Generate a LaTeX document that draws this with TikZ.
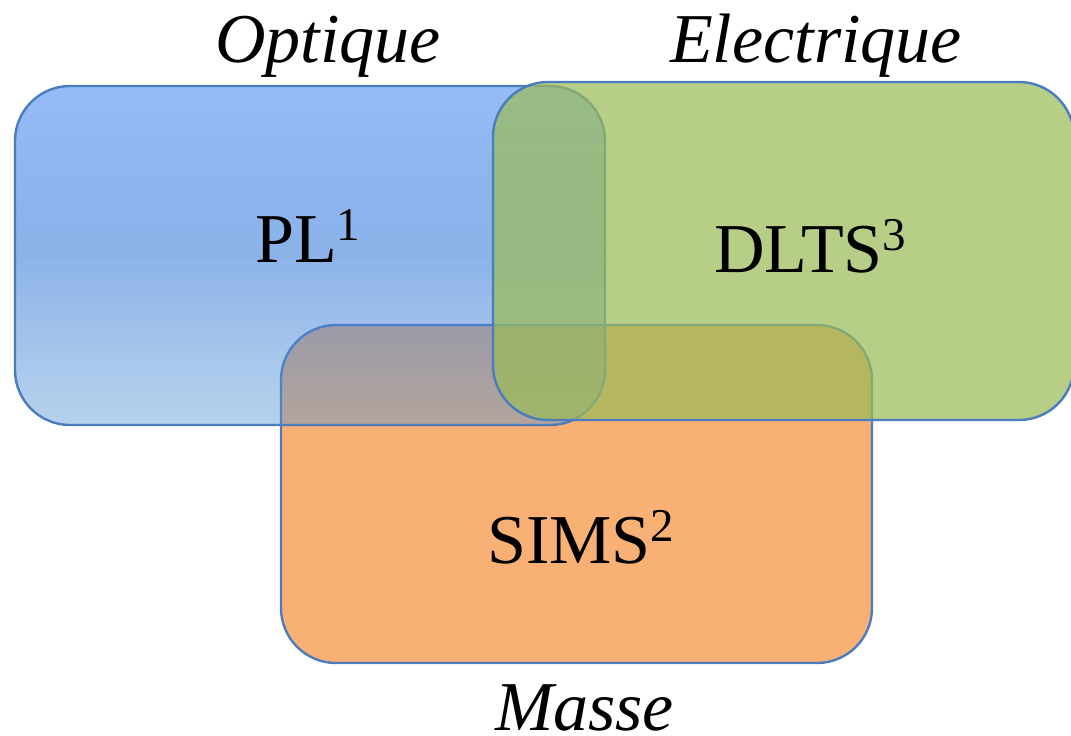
\documentclass[tikz,border=0pt]{standalone}
\usepackage{fontspec}
\setmainfont{Liberation Serif}
\usetikzlibrary{fadings}
\definecolor{edgeblue}{RGB}{74,124,190}
\definecolor{orangefill}{RGB}{247,150,70}
\definecolor{greenfill}{RGB}{155,187,89}
\definecolor{bluetop}{RGB}{116,165,244}
\definecolor{bluemid}{RGB}{60,125,218}
\definecolor{bluebot}{RGB}{87,149,211}
\tikzfading[name=bluefade, top color=transparent!25, bottom color=transparent!57]
\newcommand\supnum[1]{\raisebox{22pt}{\fontsize{47}{50}\selectfont #1}}
\begin{document}
\begin{tikzpicture}[x=1pt,y=-1pt,
  box/.style={draw=edgeblue, line width=2.4pt, rounded corners=55pt},
  lab/.style={font=\fontsize{70}{84}\selectfont, inner sep=0pt, anchor=base west},
  cat/.style={font=\fontsize{70}{84}\selectfont\itshape, inner sep=0pt, anchor=base west}]
\useasboundingbox (0,0) rectangle (1071,736);
\begin{scope}
\clip (0,0) rectangle (1071,736);
\fill[orangefill, fill opacity=0.75, rounded corners=55pt] (281,325) rectangle (872,663);
\draw[box] (281,325) rectangle (872,663);
\shade[top color=bluetop, bottom color=bluebot, middle color=bluemid, path fading=bluefade, fit fading=true, rounded corners=55pt] (15,86) rectangle (605,425);
\draw[box] (15,86) rectangle (605,425);
\fill[greenfill, fill opacity=0.72, rounded corners=55pt] (493,82) rectangle (1074,420);
\draw[box] (493,82) rectangle (1074,420);
\end{scope}
\node[cat] (optique) at (215,62) {Optique};
\node[cat] (electrique) at (670,62) {Electrique};
\node[cat] (masse) at (495,730) {Masse};
\node[lab] (pl) at (255,262) {PL\supnum{1}};
\node[lab] (dlts) at (714,272) {DLTS\supnum{3}};
\node[lab] (sims) at (487,563) {SIMS\supnum{2}};
\end{tikzpicture}
\end{document}
